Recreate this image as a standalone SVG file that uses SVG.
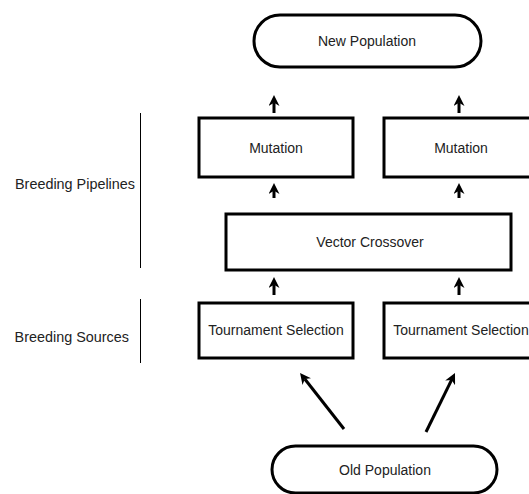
<svg xmlns="http://www.w3.org/2000/svg" width="529" height="494" viewBox="0 0 529 494">
  <style>
    .box { fill: #fff; stroke: #000; stroke-width: 3; }
    .label { font-family: "Liberation Sans", Arial, sans-serif; font-size: 14px; fill: #222; text-anchor: middle; dominant-baseline: central; }
    .side { font-family: "Liberation Sans", Arial, sans-serif; font-size: 14.4px; fill: #222; text-anchor: end; dominant-baseline: central; }
    .bracket { stroke: #000; stroke-width: 1; }
    .arrow { stroke: #000; stroke-width: 3; fill: none; marker-end: url(#head); }
  </style>
  <defs>
    <marker id="head" viewBox="0 0 10 10" refX="3" refY="5" markerWidth="11" markerHeight="11" markerUnits="userSpaceOnUse" orient="auto">
      <path d="M0,0 L10,5 L0,10 L3,5 Z" fill="#000"/>
    </marker>
  </defs>
  <rect width="529" height="494" fill="#fff"/>

  <!-- side labels -->
  <g id="label-pipelines">
    <line class="bracket" x1="140.5" y1="113" x2="140.5" y2="268"/>
    <text class="side" x="135" y="184">Breeding Pipelines</text>
  </g>
  <g id="label-sources">
    <line class="bracket" x1="140.5" y1="299" x2="140.5" y2="363"/>
    <text class="side" x="129" y="337">Breeding Sources</text>
  </g>

  <!-- nodes -->
  <g id="new-population">
    <rect class="box" x="254" y="15" width="227" height="52" rx="26"/>
    <text class="label" x="367" y="41">New Population</text>
  </g>
  <g id="mutation-1">
    <rect class="box" x="199" y="118" width="154" height="59"/>
    <text class="label" x="276" y="148">Mutation</text>
  </g>
  <g id="mutation-2">
    <rect class="box" x="384" y="118" width="154" height="59"/>
    <text class="label" x="461" y="148">Mutation</text>
  </g>
  <g id="vector-crossover">
    <rect class="box" x="226" y="214" width="285" height="56"/>
    <text class="label" x="370" y="242">Vector Crossover</text>
  </g>
  <g id="tournament-1">
    <rect class="box" x="199" y="303" width="154" height="55"/>
    <text class="label" x="276" y="330">Tournament Selection</text>
  </g>
  <g id="tournament-2">
    <rect class="box" x="384" y="303" width="154" height="55"/>
    <text class="label" x="461" y="330">Tournament Selection</text>
  </g>
  <g id="old-population">
    <rect class="box" x="272" y="446" width="225" height="47" rx="23.5"/>
    <text class="label" x="385" y="470">Old Population</text>
  </g>

  <!-- connectors -->
  <g id="connectors">
    <line class="arrow" x1="274" y1="113" x2="274" y2="102.7"/>
    <line class="arrow" x1="459" y1="113" x2="459" y2="102.7"/>
    <line class="arrow" x1="274" y1="198" x2="274" y2="190.7"/>
    <line class="arrow" x1="459" y1="198" x2="459" y2="190.7"/>
    <line class="arrow" x1="274" y1="295" x2="274" y2="284.7"/>
    <line class="arrow" x1="459" y1="295" x2="459" y2="284.7"/>
    <line class="arrow" x1="344" y1="429" x2="304.8" y2="379"/>
    <line class="arrow" x1="426" y1="432" x2="451.6" y2="379.9"/>
  </g>
</svg>
